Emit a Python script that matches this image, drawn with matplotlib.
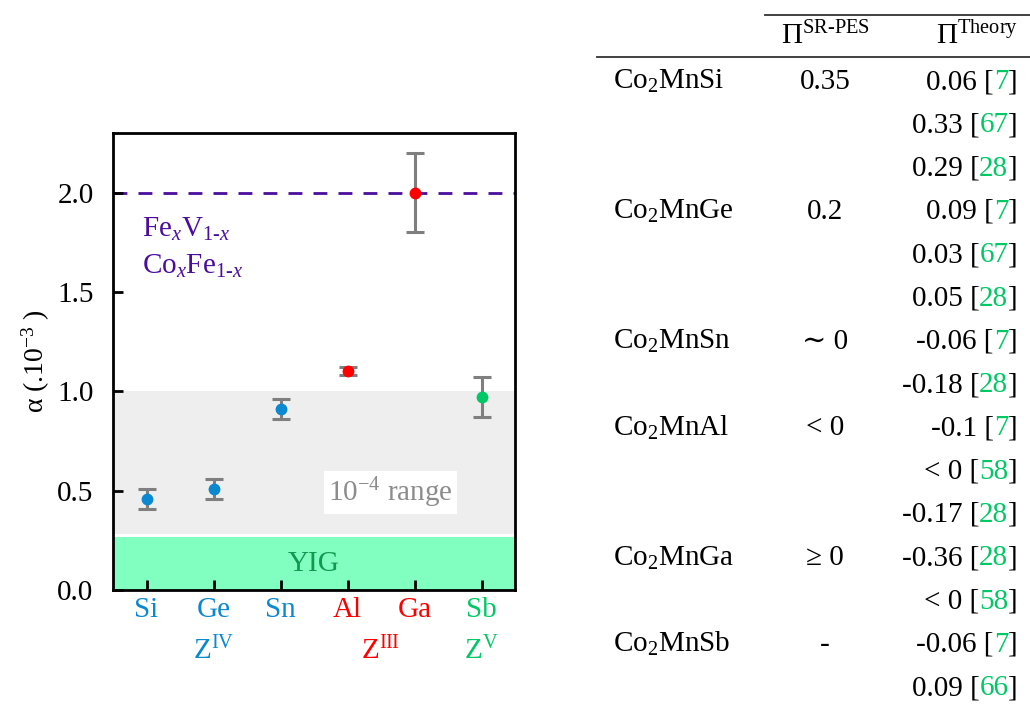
import numpy as np
import matplotlib
matplotlib.use("Agg")
import matplotlib.pyplot as plt
import matplotlib.transforms as mtransforms

plt.rcParams['font.family'] = ['Liberation Serif', 'DejaVu Serif']
plt.rcParams['mathtext.fontset'] = 'custom'
plt.rcParams['mathtext.rm'] = 'Liberation Serif'
plt.rcParams['mathtext.it'] = 'Liberation Serif:italic'
plt.rcParams['mathtext.bf'] = 'Liberation Serif:bold'

# damping data
elements = ['Si', 'Ge', 'Sn', 'Al', 'Ga', 'Sb']
alpha = [0.46, 0.51, 0.91, 1.10, 2.00, 0.97]
alpha_err = [0.05, 0.05, 0.05, 0.02, 0.20, 0.10]
group_of = ['IV', 'IV', 'IV', 'III', 'III', 'V']
group_names = ['IV', 'III', 'V']
group_pos = [1, 3.5, 5]
alloy_alpha = 2.0
range_top = 1.0
yig_top = 0.265

# table data
compounds = ['Co$_2$MnSi', '', '', 'Co$_2$MnGe', '', '', 'Co$_2$MnSn', '',
             'Co$_2$MnAl', '', '', 'Co$_2$MnGa', '', 'Co$_2$MnSb', '']
sr_pes = ['0.35', '', '', '0.2', '', '', '\u223c 0', '', '< 0', '', '',
          '\u2265 0', '', '-', '']
theory_vals = ['0.06', '0.33', '0.29', '0.09', '0.03', '0.05', '-0.06', '-0.18',
               '-0.1', '< 0', '-0.17', '-0.36', '< 0', '-0.06', '0.09']
theory_refs = ['7', '67', '28', '7', '67', '28', '7', '28', '7', '58', '28',
               '28', '58', '7', '66']

colors = {'IV': '#0a88d0', 'III': '#ff0000', 'V': '#00c864'}
W, H = 1030, 704
fs = 21

fig = plt.figure(figsize=(W / 100, H / 100), dpi=100)
ax = fig.add_axes([113 / W, 1 - 590 / H, 402 / W, 457 / H])

x = np.arange(len(elements))
ax.axhspan(yig_top + 0.015, range_top, color='#eeeeee', lw=0, zorder=0)
ax.axhspan(0, yig_top, color='#80ffc0', lw=0, zorder=0)
ax.axhline(alloy_alpha, color='#4b0d9e', lw=2, dashes=(5, 4), zorder=1)

for i in range(len(elements)):
    ax.errorbar(x[i], alpha[i], yerr=alpha_err[i], fmt='o', ms=7.5,
                color=colors[group_of[i]], ecolor='#7f7f7f', elinewidth=2.2,
                capsize=6.5, capthick=2.2, zorder=3)

ax.set_xlim(-0.5, 5.5)
ax.set_ylim(0, 2.3)
ax.set_yticks([0, 0.5, 1.0, 1.5, 2.0])
ax.set_yticklabels(['0.0', '0.5', '1.0', '1.5', '2.0'])
ax.set_xticks(x)
ax.set_xticklabels(elements)
for lab, g in zip(ax.get_xticklabels(), group_of):
    lab.set_color(colors[g])
ax.tick_params(direction='in', width=2, length=7, labelsize=fs)
ax.tick_params(axis='x', pad=5)
ax.tick_params(axis='y', pad=14)
for s in ax.spines.values():
    s.set_linewidth(2)
ax.set_ylabel('\u03b1 (.10$^{-3}$ )', fontsize=20, labelpad=4)

blend = mtransforms.blended_transform_factory(ax.transData, ax.transAxes)
for g, p in zip(group_names, group_pos):
    ax.text(p, -0.152, 'Z$^{\\mathrm{%s}}$' % g, transform=blend, ha='center',
            va='baseline', fontsize=fs, color=colors[g])

ax.text(-0.07, 1.78, 'Fe$_{x}$V$_{\\mathit{1}\\text{-}x}$', fontsize=fs,
        color='#4b0d9e', va='baseline')
ax.text(-0.07, 1.59, 'Co$_{x}$Fe$_{\\mathit{1}\\text{-}x}$', fontsize=fs,
        color='#4b0d9e', va='baseline')
ax.text(3.64, 0.49, '10$^{-4}$ range', fontsize=fs, color='#8c8c8c',
        ha='center', va='center',
        bbox=dict(facecolor='white', edgecolor='none', pad=3))
ax.text(2.5, 0.13, 'YIG', fontsize=fs, color='#109a50', ha='center', va='center')


# table on the right, positioned in figure pixels
def px(xp, yp):
    return xp / W, 1 - yp / H


fig.add_artist(plt.Line2D([765 / W, 1.0], [1 - 15 / H] * 2, color='#333333',
                          lw=1.3, transform=fig.transFigure))
fig.add_artist(plt.Line2D([597 / W, 1.0], [1 - 57 / H] * 2, color='#333333',
                          lw=1.3, transform=fig.transFigure))
fig.text(*px(825, 44), '$\\Pi^{\\mathrm{SR}\\text{-}\\mathrm{PES}}$', fontsize=fs,
         ha='center', va='baseline')
fig.text(*px(1018, 44), '$\\Pi^{\\mathrm{Theory}}$', fontsize=fs,
         ha='right', va='baseline')

renderer = fig.canvas.get_renderer()
row0, dy = 80, 43.3
for i in range(len(theory_vals)):
    yb = row0 + dy * i + 9
    if compounds[i]:
        fig.text(*px(613, yb), compounds[i], fontsize=fs, va='baseline')
    if sr_pes[i]:
        fig.text(*px(825, yb), sr_pes[i], fontsize=fs, ha='center', va='baseline')
    t = fig.text(*px(1018, yb), ']', fontsize=fs, ha='right', va='baseline')
    left = t.get_window_extent(renderer).x0
    t = fig.text(left / W, 1 - yb / H, theory_refs[i], fontsize=fs, ha='right',
                 va='baseline', color='#00c864')
    left = t.get_window_extent(renderer).x0
    fig.text(left / W, 1 - yb / H, theory_vals[i] + ' [', fontsize=fs,
             ha='right', va='baseline')

fig.savefig('out.png', dpi=100)
